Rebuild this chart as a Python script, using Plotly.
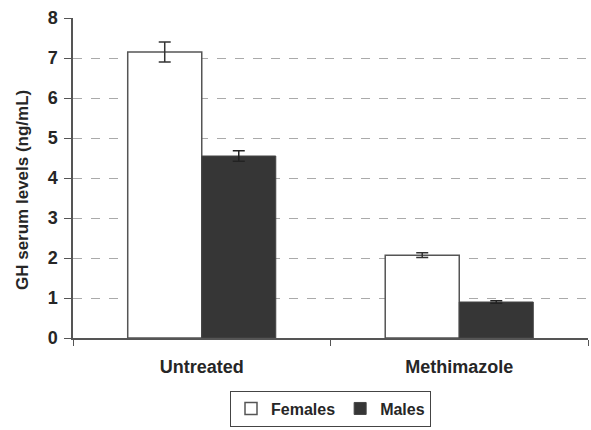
import plotly.graph_objects as go

groups = ["Untreated", "Methimazole"]
females = [7.15, 2.07]
females_err = [0.25, 0.06]
males = [4.55, 0.9]
males_err = [0.13, 0.03]
y_ticks = [0, 1, 2, 3, 4, 5, 6, 7, 8]

font_family = "Liberation Sans, Arial, sans-serif"

fig = go.Figure()
fig.add_trace(go.Bar(
    name="Females", x=groups, y=females,
    error_y=dict(type="data", array=females_err, color="#333333", thickness=1.5, width=6),
    marker=dict(color="white", line=dict(color="#555555", width=1.5)),
))
fig.add_trace(go.Bar(
    name="Males", x=groups, y=males,
    error_y=dict(type="data", array=males_err, color="#222222", thickness=1.5, width=6),
    marker=dict(color="#363636", line=dict(color="#444444", width=1)),
))

fig.update_layout(
    width=591, height=430,
    margin=dict(l=73, r=3, t=18, b=92, autoexpand=False),
    plot_bgcolor="white", paper_bgcolor="white",
    barmode="group", bargap=0.425, bargroupgap=0,
    font=dict(family=font_family, size=17, color="#262626", weight="bold"),
    showlegend=True,
    legend=dict(
        orientation="h", x=0.5, xanchor="center",
        yref="container", y=0.008, yanchor="bottom",
        bordercolor="#444444", borderwidth=1, font=dict(size=16),
        itemwidth=30, tracegroupgap=0,
    ),
    xaxis=dict(
        range=[-0.5, 1.5], showline=True, linecolor="#555555", linewidth=1.5,
        ticks="outside", tickson="boundaries", ticklen=6, tickcolor="#555555",
        showgrid=False, tickfont=dict(size=18), ticklabelstandoff=12,
        automargin=False,
    ),
    yaxis=dict(
        range=[0, 8], tickvals=y_ticks, showline=True, linecolor="#555555", linewidth=1.5,
        ticks="outside", ticklen=7, tickcolor="#555555",
        showgrid=True, gridcolor="#aaaaaa", griddash="dash", gridwidth=1,
        zeroline=False, automargin=False,
        tickfont=dict(size=18), ticklabelstandoff=3,
    ),
    annotations=[dict(
        text="GH serum levels (ng/mL)", textangle=-90,
        xref="paper", yref="paper", x=-0.099, y=0.4625,
        xanchor="center", yanchor="middle", showarrow=False,
        font=dict(size=17),
    )],
)

fig.write_html("out.html")
